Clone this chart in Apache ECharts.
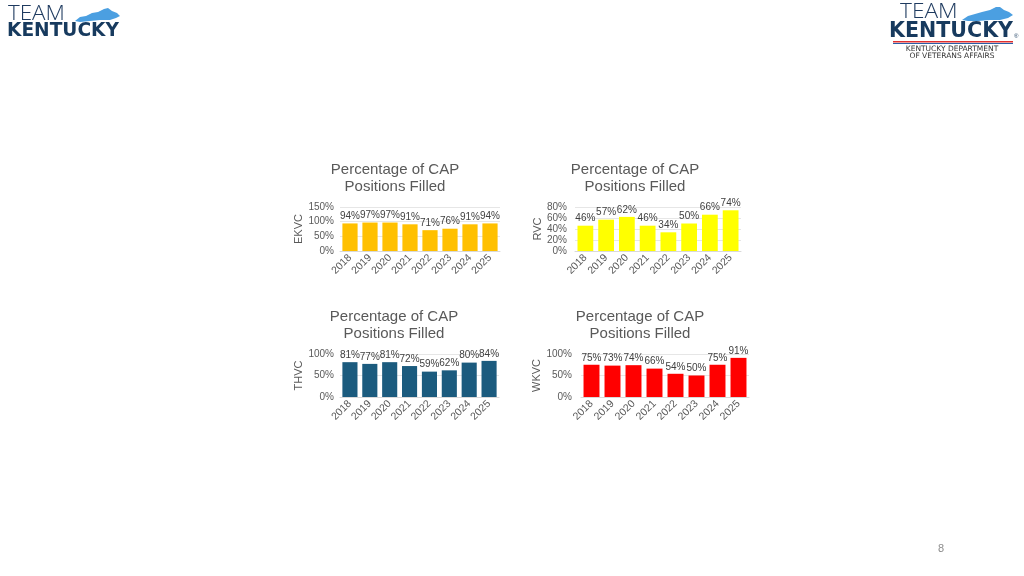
<!DOCTYPE html>
<html><head><meta charset="utf-8">
<script src="https://cdn.jsdelivr.net/npm/echarts@6/dist/echarts.min.js"></script>
<style>html,body{margin:0;padding:0;background:#fff}#c{width:1024px;height:576px}</style>
</head><body><div id="c"></div>
<script>
const years = ['2018','2019','2020','2021','2022','2023','2024','2025'];
const ekvc = [94,97,97,91,71,76,91,94];
const rvc = [46,57,62,46,34,50,66,74];
const thvc = [81,77,81,72,59,62,80,84];
const wkvc = [75,73,74,66,54,50,75,91];
const names = ['EKVC','RVC','THVC','WKVC'];
const titleText = 'Percentage of CAP\nPositions Filled';
const colors = ['#FFC000','#FFFF00','#1B5B7E','#FF0000'];
const yMax = [150,80,100,100];
const yInt = [50,20,50,50];
const seriesData = [ekvc, rvc, thvc, wkvc];

const grids = [
  {left:340, width:160, top:207, height:44},
  {left:575, width:166, top:207, height:44},
  {left:340, width:159, top:354, height:43},
  {left:581, width:168, top:354, height:43}
];
const titlePos = [[395,161],[635,161],[394,308],[640,308]];
const labelMargin = [6,8,6,9];
const FONT = 'Liberation Sans, Arial, sans-serif';

const option = {
  animation:false,
  backgroundColor:'#fff',
  title: titlePos.map(p=>({text:titleText,left:p[0],top:p[1],textAlign:'center',padding:0,
    textStyle:{fontFamily:FONT,fontSize:15,fontWeight:'normal',color:'#595959',lineHeight:17}})),
  grid: grids,
  xAxis: grids.map((g,i)=>({type:'category',gridIndex:i,data:years,
    axisLine:{show:true,lineStyle:{color:'#D9D9D9'}},axisTick:{show:false},
    axisLabel:{rotate:45,fontFamily:FONT,fontSize:10.5,color:'#595959',margin:5,interval:0}})),
  yAxis: grids.map((g,i)=>({type:'value',gridIndex:i,min:0,max:yMax[i],interval:yInt[i],
    name:names[i],nameLocation:'middle',nameRotate:90,nameGap:i===1?30:36,
    nameTextStyle:{fontFamily:FONT,fontSize:11,color:'#595959'},
    axisLine:{show:false},axisTick:{show:false},
    splitLine:{lineStyle:{color:'#E6E6E6'}},
    axisLabel:{formatter:'{value}%',fontFamily:FONT,fontSize:10,color:'#595959',margin:labelMargin[i]}})),
  series: seriesData.map((d,i)=>({type:'bar',xAxisIndex:i,yAxisIndex:i,data:d,
    barCategoryGap:'24%',itemStyle:{color:colors[i]},
    label:{show:true,position:'top',distance:2,formatter:'{c}%',fontFamily:FONT,fontSize:10,color:'#404040'}})),
  graphic:[
    {type:'text',x:8,y:4,scaleX:1.12,style:{text:'TEAM',font:'300 20px "Open Sans", sans-serif',fill:'#1E3A5F'}},
    {type:'text',x:7,y:22,style:{text:'KENTUCKY',font:'bold 18.6px "DejaVu Sans", sans-serif',fill:'#173A5E'}},
    {type:'polygon',shape:{points:[[75,21],[80,17],[86,16],[92,13],[98,12],[104,9],[108,8],[112,11],[117,13],[120,16],[116,18],[110,20],[100,20],[90,21],[80,22]]},style:{fill:'#4B9FE1'}},
    {type:'text',x:900,y:2,scaleX:1.08,style:{text:'TEAM',font:'300 21px "Open Sans", sans-serif',fill:'#1E3A5F'}},
    {type:'text',x:889,y:21,style:{text:'KENTUCKY',font:'bold 20.6px "DejaVu Sans", sans-serif',fill:'#173A5E'}},
    {type:'text',x:1014,y:33,style:{text:'®',font:'6px sans-serif',fill:'#173A5E'}},
    {type:'polygon',shape:{points:[[962,20],[968,16],[975,14],[982,12],[990,10],[996,7],[1000,7],[1004,10],[1009,12],[1013,15],[1008,18],[1000,20],[990,20],[978,21],[968,21]]},style:{fill:'#4B9FE1'}},
    {type:'rect',shape:{x:893,y:41,width:120,height:1.5},style:{fill:'#E03030'}},
    {type:'rect',shape:{x:893,y:43,width:120,height:1},style:{fill:'#2A5FA8'}},
    {type:'text',x:952,y:45,style:{text:'KENTUCKY DEPARTMENT',font:'7.5px "DejaVu Sans", sans-serif',fill:'#333',textAlign:'center'}},
    {type:'text',x:952,y:52,style:{text:'OF VETERANS AFFAIRS',font:'7.5px "DejaVu Sans", sans-serif',fill:'#333',textAlign:'center'}},
    {type:'text',x:938,y:543,style:{text:'8',font:'11px "Liberation Sans", sans-serif',fill:'#8C8C8C'}}
  ]
};
const chart = echarts.init(document.getElementById('c'));
chart.setOption(option);
</script></body></html>
